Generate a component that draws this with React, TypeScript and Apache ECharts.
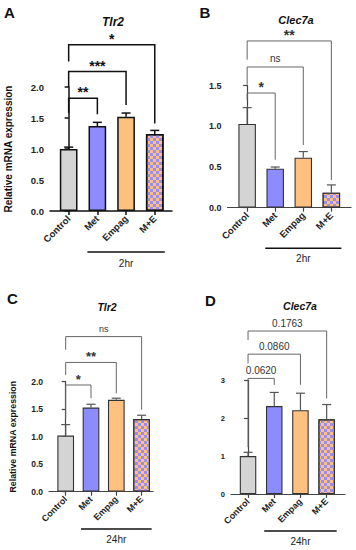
import React, { useEffect, useRef } from "react";
import * as echarts from "echarts";

const FONT = "Liberation Sans, Arial, Helvetica, sans-serif";

const categories = ["Control", "Met", "Empag", "M+E"];

// Panel A: Tlr2, 2hr
const tlr2_2hr = [1.0, 1.37, 1.52, 1.24];
const tlr2_2hr_err = [0.03, 0.06, 0.06, 0.06];
const tlr2_2hr_sig = ["**", "***", "*"];

// Panel B: Clec7a, 2hr
const clec7a_2hr = [1.03, 0.48, 0.615, 0.185];
const clec7a_2hr_err = [0.2, 0.02, 0.075, 0.095];
const clec7a_2hr_sig = ["*", "ns", "**"];

// Panel C: Tlr2, 24hr
const tlr2_24hr = [1.02, 1.53, 1.67, 1.32];
const tlr2_24hr_err = [0.2, 0.06, 0.03, 0.07];
const tlr2_24hr_sig = ["*", "**", "ns"];

// Panel D: Clec7a, 24hr
const clec7a_24hr = [1.0, 2.32, 2.21, 1.97];
const clec7a_24hr_err = [0.1, 0.36, 0.45, 0.39];
const clec7a_24hr_sig = ["0.0620", "0.0860", "0.1763"];

const barColors = ["#d4d4d4", "#8c8cff", "#ffc080", "#ffc080"];

type Panel = {
  letter: string;
  gene: string;
  time: string;
  values: number[];
  errors: number[];
  sig: string[];
  grid: { left: number; top: number; width: number; height: number };
  xMin: number;
  xMax: number;
  yMax: number;
  yInterval: number;
  yDecimals: number;
  yName: string;
  nameGap: number;
  nameSize: number;
  yLabelSize: number;
  xLabelSize: number;
  axisColor: string;
  axisWidth: number;
  barWidth: number;
  barBorder: string;
  barBorderWidth: number;
  errColor: string;
  errWidth: number;
  brColor: string;
  brWidth: number;
  starSize: number;
  textSize: number;
  sigColor: string;
  brLevel: number[];
  brLeft: number[];
  brRight: number[];
  groupLineOff: number;
  groupTextOff: number;
  letterPos: [number, number];
  genePos: [number, number];
  geneSize: number;
};

const panels: Panel[] = [
  {
    letter: "A", gene: "Tlr2", time: "2hr",
    values: tlr2_2hr, errors: tlr2_2hr_err, sig: tlr2_2hr_sig,
    grid: { left: 50, top: 87, width: 122, height: 124 },
    xMin: -0.65, xMax: 3.6, yMax: 2, yInterval: 0.5, yDecimals: 1,
    yName: "Relative mRNA expression", nameGap: 37, nameSize: 10,
    yLabelSize: 9.5, xLabelSize: 9.5,
    axisColor: "#111", axisWidth: 1.5,
    barWidth: 17.7, barBorder: "#111", barBorderWidth: 1.5,
    errColor: "#111", errWidth: 1.5,
    brColor: "#111", brWidth: 1.5, starSize: 14, textSize: 10, sigColor: "#111",
    brLevel: [1.82, 2.25, 2.68], brLeft: [1.58, 2.0, 2.41], brRight: [1.56, 1.71, 1.41],
    groupLineOff: 41, groupTextOff: 52,
    letterPos: [9.5, 12], genePos: [113, 22], geneSize: 12,
  },
  {
    letter: "B", gene: "Clec7a", time: "2hr",
    values: clec7a_2hr, errors: clec7a_2hr_err, sig: clec7a_2hr_sig,
    grid: { left: 227.5, top: 85.7, width: 123.5, height: 122 },
    xMin: -0.7, xMax: 3.7, yMax: 1.5, yInterval: 0.5, yDecimals: 1,
    yName: "", nameGap: 0, nameSize: 10,
    yLabelSize: 9, xLabelSize: 9.5,
    axisColor: "#444", axisWidth: 1.2,
    barWidth: 17.5, barBorder: "#333", barBorderWidth: 1.1,
    errColor: "#555", errWidth: 1.2,
    brColor: "#666", brWidth: 1, starSize: 14, textSize: 10, sigColor: "#333",
    brLevel: [1.41, 1.73, 2.05], brLeft: [1.32, 1.51, 1.82], brRight: [0.59, 0.77, 0.34],
    groupLineOff: 40.6, groupTextOff: 50.6,
    letterPos: [205, 12], genePos: [296, 20], geneSize: 11,
  },
  {
    letter: "C", gene: "Tlr2", time: "24hr",
    values: tlr2_24hr, errors: tlr2_24hr_err, sig: tlr2_24hr_sig,
    grid: { left: 49, top: 381.7, width: 104, height: 110 },
    xMin: -0.66, xMax: 3.45, yMax: 2, yInterval: 0.5, yDecimals: 1,
    yName: "Relative mRNA expression", nameGap: 31.5, nameSize: 8.8,
    yLabelSize: 8.5, xLabelSize: 9,
    axisColor: "#444", axisWidth: 1.2,
    barWidth: 16.7, barBorder: "#333", barBorderWidth: 1.1,
    errColor: "#555", errWidth: 1.2,
    brColor: "#666", brWidth: 1, starSize: 13, textSize: 9, sigColor: "#333",
    brLevel: [1.94, 2.35, 2.82], brLeft: [1.33, 2.12, 2.58], brRight: [1.7, 1.79, 1.49],
    groupLineOff: 37.3, groupTextOff: 47.6,
    letterPos: [12.5, 298], genePos: [107, 306.7], geneSize: 10.5,
  },
  {
    letter: "D", gene: "Clec7a", time: "24hr",
    values: clec7a_24hr, errors: clec7a_24hr_err, sig: clec7a_24hr_sig,
    grid: { left: 231, top: 380.3, width: 114, height: 113.7 },
    xMin: -0.65, xMax: 3.7, yMax: 3, yInterval: 1, yDecimals: 0,
    yName: "", nameGap: 0, nameSize: 10,
    yLabelSize: 7.5, xLabelSize: 9,
    axisColor: "#444", axisWidth: 1.2,
    barWidth: 16.5, barBorder: "#333", barBorderWidth: 1.1,
    errColor: "#555", errWidth: 1.2,
    brColor: "#666", brWidth: 1, starSize: 13, textSize: 10, sigColor: "#333",
    brLevel: [3.05, 3.69, 4.3], brLeft: [1.24, 3.45, 4.06], brRight: [2.88, 2.88, 2.52],
    groupLineOff: 37, groupTextOff: 47.7,
    letterPos: [210.5, 300], genePos: [300, 305.7], geneSize: 10.5,
  },
];

function buildOption() {
  const grid: any[] = [];
  const xAxis: any[] = [];
  const yAxis: any[] = [];
  const series: any[] = [];
  const graphic: any[] = [];

  panels.forEach((p, k) => {
    grid.push({ ...p.grid, containLabel: false });
    xAxis.push({
      type: "value",
      gridIndex: k,
      min: p.xMin,
      max: p.xMax,
      splitLine: { show: false },
      axisLine: { show: true, lineStyle: { color: p.axisColor, width: p.axisWidth } },
      axisTick: {
        show: true,
        customValues: [0, 1, 2, 3],
        length: 4,
        lineStyle: { color: p.axisColor, width: p.axisWidth },
      },
      axisLabel: {
        customValues: [0, 1, 2, 3],
        formatter: (v: number) => categories[Math.round(v)] ?? "",
        rotate: 45,
        margin: 6,
        fontFamily: FONT,
        fontWeight: "bold",
        fontSize: p.xLabelSize,
        color: "#222",
      },
    });
    yAxis.push({
      type: "value",
      gridIndex: k,
      min: 0,
      max: p.yMax,
      interval: p.yInterval,
      splitLine: { show: false },
      axisLine: { show: true, lineStyle: { color: p.axisColor, width: p.axisWidth } },
      axisTick: { show: true, length: 4, lineStyle: { color: p.axisColor, width: p.axisWidth } },
      axisLabel: {
        margin: 6,
        formatter: (v: number) => v.toFixed(p.yDecimals),
        fontFamily: FONT,
        fontWeight: "bold",
        fontSize: p.yLabelSize,
        color: "#222",
      },
      name: p.yName,
      nameLocation: "middle",
      nameGap: p.nameGap,
      nameTextStyle: {
        fontFamily: FONT,
        fontWeight: "bold",
        fontSize: p.nameSize,
        color: "#111",
      },
    });

    series.push({
      type: "bar",
      xAxisIndex: k,
      yAxisIndex: k,
      barWidth: p.barWidth,
      silent: true,
      data: p.values.map((v, i) => ({
        value: [i, v],
        itemStyle: {
          color: barColors[i],
          borderColor: p.barBorder,
          borderWidth: p.barBorderWidth,
          decal:
            i === 3
              ? {
                  symbol: "rect",
                  symbolSize: 1,
                  color: "#9a8cf0",
                  dashArrayX: [[3, 3], [0, 3, 3, 0]],
                  dashArrayY: [3, 0],
                  rotation: 0,
                }
              : undefined,
        },
      })),
      z: 2,
    });

    series.push({
      type: "custom",
      xAxisIndex: k,
      yAxisIndex: k,
      silent: true,
      clip: false,
      z: 3,
      data: p.values.map((v, i) => [i, v, v + p.errors[i]]),
      renderItem: (params: any, api: any) => {
        const x = api.value(0);
        const lo = api.coord([x, api.value(1)]);
        const hi = api.coord([x, api.value(2)]);
        const hw = 4.5;
        return {
          type: "group",
          children: [
            {
              type: "line",
              shape: { x1: lo[0], y1: lo[1], x2: hi[0], y2: hi[1] },
              style: { stroke: p.errColor, lineWidth: p.errWidth },
            },
            {
              type: "line",
              shape: { x1: hi[0] - hw, y1: hi[1], x2: hi[0] + hw, y2: hi[1] },
              style: { stroke: p.errColor, lineWidth: p.errWidth },
            },
          ],
        };
      },
    });

    series.push({
      type: "custom",
      xAxisIndex: k,
      yAxisIndex: k,
      silent: true,
      clip: false,
      z: 4,
      data: p.sig.map((s, i) => [i + 1, p.brLevel[i]]),
      renderItem: (params: any, api: any) => {
        const i = params.dataIndex;
        const target = api.value(0);
        const lv = api.value(1);
        const a = api.coord([0, lv]);
        const b = api.coord([target, lv]);
        const le = api.coord([0, p.brLeft[i]]);
        const re = api.coord([target, p.brRight[i]]);
        const label = p.sig[i];
        const isStar = /^\*+$/.test(label);
        const font = isStar
          ? `bold ${p.starSize}px ${FONT}`
          : `normal ${p.textSize}px ${FONT}`;
        return {
          type: "group",
          children: [
            {
              type: "polyline",
              shape: { points: [[a[0], le[1]], a, b, [b[0], re[1]]] },
              style: { stroke: p.brColor, lineWidth: p.brWidth, fill: null },
            },
            {
              type: "text",
              x: (a[0] + b[0]) / 2,
              y: isStar ? a[1] + 1 : a[1] - 3,
              style: {
                text: label,
                fill: p.sigColor,
                font,
                align: "center",
                verticalAlign: "bottom",
              },
            },
          ],
        };
      },
    });

    series.push({
      type: "custom",
      xAxisIndex: k,
      yAxisIndex: k,
      silent: true,
      clip: false,
      z: 4,
      data: [[1, 0]],
      renderItem: (params: any, api: any) => {
        const s = api.coord([1, 0]);
        const e = api.coord([3, 0]);
        const x1 = s[0] - 10;
        const x2 = e[0] + 10;
        const y = s[1] + p.groupLineOff;
        return {
          type: "group",
          children: [
            {
              type: "line",
              shape: { x1, y1: y, x2, y2: y },
              style: { stroke: "#111", lineWidth: 1.6 },
            },
            {
              type: "text",
              x: (x1 + x2) / 2,
              y: s[1] + p.groupTextOff,
              style: {
                text: p.time,
                fill: "#222",
                font: `normal 10px ${FONT}`,
                align: "center",
                verticalAlign: "middle",
              },
            },
          ],
        };
      },
    });

    graphic.push({
      type: "text",
      x: p.letterPos[0],
      y: p.letterPos[1],
      style: {
        text: p.letter,
        font: `bold 15px ${FONT}`,
        fill: "#111",
        align: "center",
        verticalAlign: "middle",
        textAlign: "center",
        textVerticalAlign: "middle",
      },
    });
    graphic.push({
      type: "text",
      x: p.genePos[0],
      y: p.genePos[1],
      style: {
        text: p.gene,
        font: `italic bold ${p.geneSize}px ${FONT}`,
        fill: "#111",
        align: "center",
        verticalAlign: "middle",
        textAlign: "center",
        textVerticalAlign: "middle",
      },
    });
  });

  return {
    animation: false,
    backgroundColor: "#ffffff",
    grid,
    xAxis,
    yAxis,
    series,
    graphic,
  };
}

export default function App() {
  const ref = useRef<HTMLDivElement>(null);
  useEffect(() => {
    document.body.style.margin = "0";
    if (!ref.current) return;
    const chart = echarts.init(ref.current, undefined, { renderer: "svg" });
    chart.setOption(buildOption() as any);
    return () => chart.dispose();
  }, []);
  return <div ref={ref} style={{ width: 356, height: 550, background: "#fff" }} />;
}
